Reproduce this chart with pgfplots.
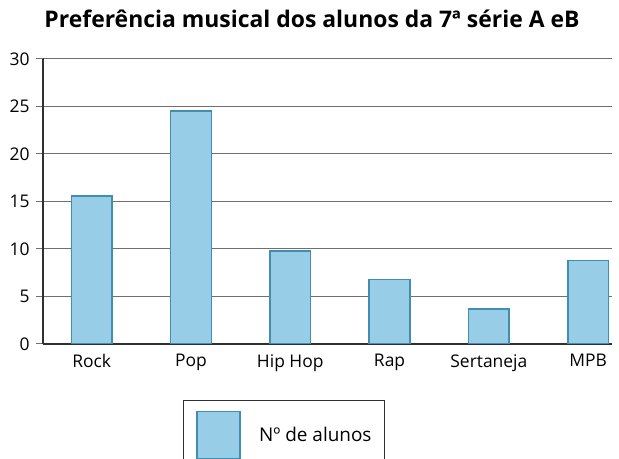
\documentclass[border=0pt]{standalone}
\usepackage{fontspec}
\setmainfont{Open Sans}
\usepackage{pgfplots}
\pgfplotsset{compat=1.18}
\definecolor{barfill}{HTML}{98CDE8}
\definecolor{baredge}{HTML}{428DB0}
\definecolor{gridc}{HTML}{707070}
\definecolor{axisc}{HTML}{303030}
\begin{document}
\begin{tikzpicture}[x=1bp,y=1bp]
\useasboundingbox (-43,-115) rectangle (576,344);
\node[anchor=base, font=\bfseries\fontsize{23}{26}\selectfont] at (269,316) {Preferência musical dos alunos da 7ª série A eB};
\begin{axis}[
  at={(0,0)}, anchor=south west,
  scale only axis, width=569bp, height=285bp,
  xmin=-0.49, xmax=5.24, ymin=0, ymax=30,
  axis x line=bottom, axis y line=left,
  axis line style={-},
  x axis line style={draw=axisc, line width=1.2bp},
  y axis line style={draw=axisc, line width=1.3bp},
  ymajorgrids, grid style={draw=gridc, line width=1bp},
  ytick={0,5,...,30},
  xtick={0,1,2,3,4,5},
  xticklabels={Rock,Pop,Hip Hop,Rap,Sertaneja,MPB},
  tick align=outside,
  major tick length=7bp,
  ytick style={draw=gridc, line width=1bp},
  xtick style={draw=none},
  tick label style={font=\fontsize{17.5}{20}\selectfont},
  /pgf/number format/assume math mode=true,
  yticklabel style={xshift=-3bp},
  xticklabel style={yshift=0bp},
  legend style={at={(0.246,-0.1965)}, anchor=north west, draw=axisc, line width=1bp,
    inner xsep=13bp, inner ysep=10bp, nodes={inner sep=0pt},
    font=\fontsize{19}{22}\selectfont},
]
\addplot[ybar, bar width=0.41, fill=barfill, draw=baredge, line width=1.6bp,
  legend image code/.code={\draw[fill=barfill, draw=baredge, line width=1.6bp] (1bp,-23bp) rectangle (44bp,24bp); \path (62bp,0bp);}]
  coordinates {(0,15.6) (1,24.5) (2,9.8) (3,6.8) (4,3.7) (5,8.8)};
\addlegendentry{Nº de alunos}
\draw[axisc, line width=1.3bp] (axis cs:-0.49,0) -- ++(0bp,-7bp);
\draw[axisc, line width=1.3bp] (axis cs:-0.49,30) -- ++(0bp,4bp);
\end{axis}
\end{tikzpicture}
\end{document}
